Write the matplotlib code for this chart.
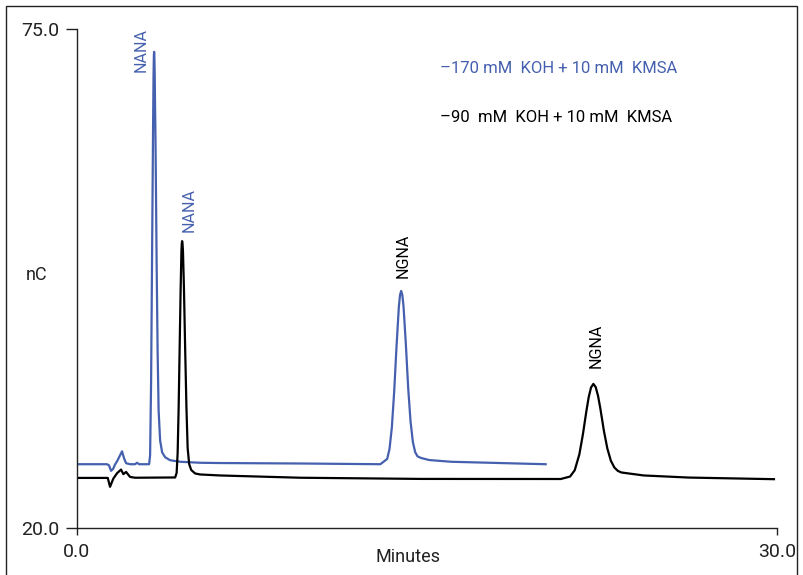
import matplotlib
matplotlib.use("Agg")
import matplotlib.pyplot as plt
from matplotlib.patches import Rectangle

plt.rcParams['font.family'] = ['Roboto', 'DejaVu Sans']

# ---- data (minutes, nC) ----
blue_t = [0.0, 1.288, 1.373, 1.459, 1.545, 1.631, 1.717, 1.845, 1.931, 2.017, 2.103,
          2.275, 2.489, 2.575, 2.661, 3.090, 3.133, 3.176, 3.219, 3.262, 3.280, 3.295,
          3.305, 3.315, 3.331, 3.369, 3.412, 3.455, 3.498, 3.562, 3.648, 3.777, 3.990,
          4.420, 5.280, 6.140, 9.571, 13.000, 13.293, 13.393, 13.493, 13.593, 13.693,
          13.793, 13.843, 13.893, 13.943, 13.993, 14.093, 14.193, 14.293, 14.393,
          14.493, 14.593, 14.743, 15.094, 16.039, 20.086]
blue_v = [27.03, 27.03, 26.90, 26.30, 26.50, 27.00, 27.36, 28.01, 28.45, 27.68, 27.14,
          27.03, 27.03, 27.19, 27.03, 27.03, 28.00, 36.25, 50.52, 64.80, 69.80, 72.10,
          72.48, 72.10, 69.80, 61.50, 49.40, 39.50, 32.95, 29.66, 28.34, 27.80, 27.47,
          27.30, 27.19, 27.16, 27.11, 27.03, 27.61, 28.71, 31.07, 35.00, 39.98,
          44.36, 45.67, 46.13, 45.69, 44.47, 40.30, 35.46, 31.80, 29.50,
          28.36, 27.90, 27.72, 27.49, 27.30, 27.03]

black_t = [0.0, 1.318, 1.416, 1.558, 1.717, 1.888, 1.987, 2.103, 2.275, 2.489, 4.206,
           4.270, 4.313, 4.356, 4.399, 4.442, 4.476, 4.492, 4.506, 4.520, 4.541, 4.584,
           4.635, 4.691, 4.742, 4.807, 4.893, 5.064, 5.279, 6.137, 9.571, 14.721, 20.730,
           21.13, 21.33, 21.53, 21.68, 21.83, 21.93, 22.03, 22.13, 22.23, 22.33, 22.43,
           22.58, 22.73, 22.88, 23.03, 23.18, 23.33, 23.59, 24.29, 26.21, 29.87]
black_v = [25.52, 25.52, 24.54, 25.45, 26.04, 26.44, 25.93, 26.18, 25.63, 25.54, 25.57,
           26.07, 28.26, 33.20, 39.79, 46.38, 50.55, 51.40, 51.62, 51.40, 50.55, 46.38,
           39.79, 33.20, 28.81, 27.06, 26.40, 26.01, 25.90, 25.79, 25.54, 25.41, 25.40,
           25.67, 26.36, 28.12, 30.30, 32.87, 34.42, 35.49, 35.88, 35.53, 34.57, 33.16,
           30.73, 28.75, 27.41, 26.67, 26.29, 26.12, 26.03, 25.79, 25.56, 25.38]

peak_names = ["NANA", "NANA", "NGNA", "NGNA"]
peak_label_t = [2.73, 4.81, 13.97, 22.25]
peak_label_v = [70.3, 52.6, 47.6, 37.6]
peak_label_series = ["blue", "blue", "black", "black"]

legend_labels = ["\u2013170 mM  KOH + 10 mM  KMSA", "\u201390  mM  KOH + 10 mM  KMSA"]

x_ticks = [0.0, 30.0]
y_ticks = [20.0, 75.0]

BLUE = "#4560AE"
BLACK = "#000000"
AXC = "#222222"

fig = plt.figure(figsize=(8.04, 5.75), dpi=100)
ax = fig.add_axes([77/804, 1-528/575, 700/804, 499/575])

ax.plot(blue_t, blue_v, color=BLUE, lw=1.6, solid_joinstyle='round')
ax.plot(black_t, black_v, color=BLACK, lw=1.6, solid_joinstyle='round')

ax.set_xlim(0, 30)
ax.set_ylim(20, 75)
ax.set_xticks(x_ticks)
ax.set_yticks(y_ticks)
ax.set_xticklabels([f"{v:.1f}" for v in x_ticks])
ax.set_yticklabels([f"{v:.1f}" for v in y_ticks])
ax.tick_params(axis='both', direction='out', colors=AXC, labelsize=14,
               width=1.0)
ax.tick_params(axis='y', length=8, pad=5)
ax.tick_params(axis='x', length=5, pad=6)
for s in ['top', 'right']:
    ax.spines[s].set_visible(False)
for s in ['left', 'bottom']:
    ax.spines[s].set_color(AXC)
    ax.spines[s].set_linewidth(1.0)

colors = {"blue": BLUE, "black": BLACK}
for name, t, v, ser in zip(peak_names, peak_label_t, peak_label_v, peak_label_series):
    ax.text(t, v, name, rotation=90, ha='center', va='bottom', fontsize=11.5,
            color=colors[ser])

ax.text(15.56, 70.7, legend_labels[0], color=BLUE, fontsize=12, ha='left', va='center')
ax.text(15.56, 65.3, legend_labels[1], color=BLACK, fontsize=12, ha='left', va='center')

fig.text(37/804, 1-275/575, "nC", fontsize=13, ha='center', va='center', color=AXC)
fig.text(408/804, 1-557/575, "Minutes", fontsize=13, ha='center', va='center', color=AXC)

fig.patches.append(Rectangle((6/804, -0.05), 791/804, 1.05 - 6/575, transform=fig.transFigure,
                             fill=False, edgecolor=AXC, lw=1.0))

fig.savefig("out.png", dpi=100)
